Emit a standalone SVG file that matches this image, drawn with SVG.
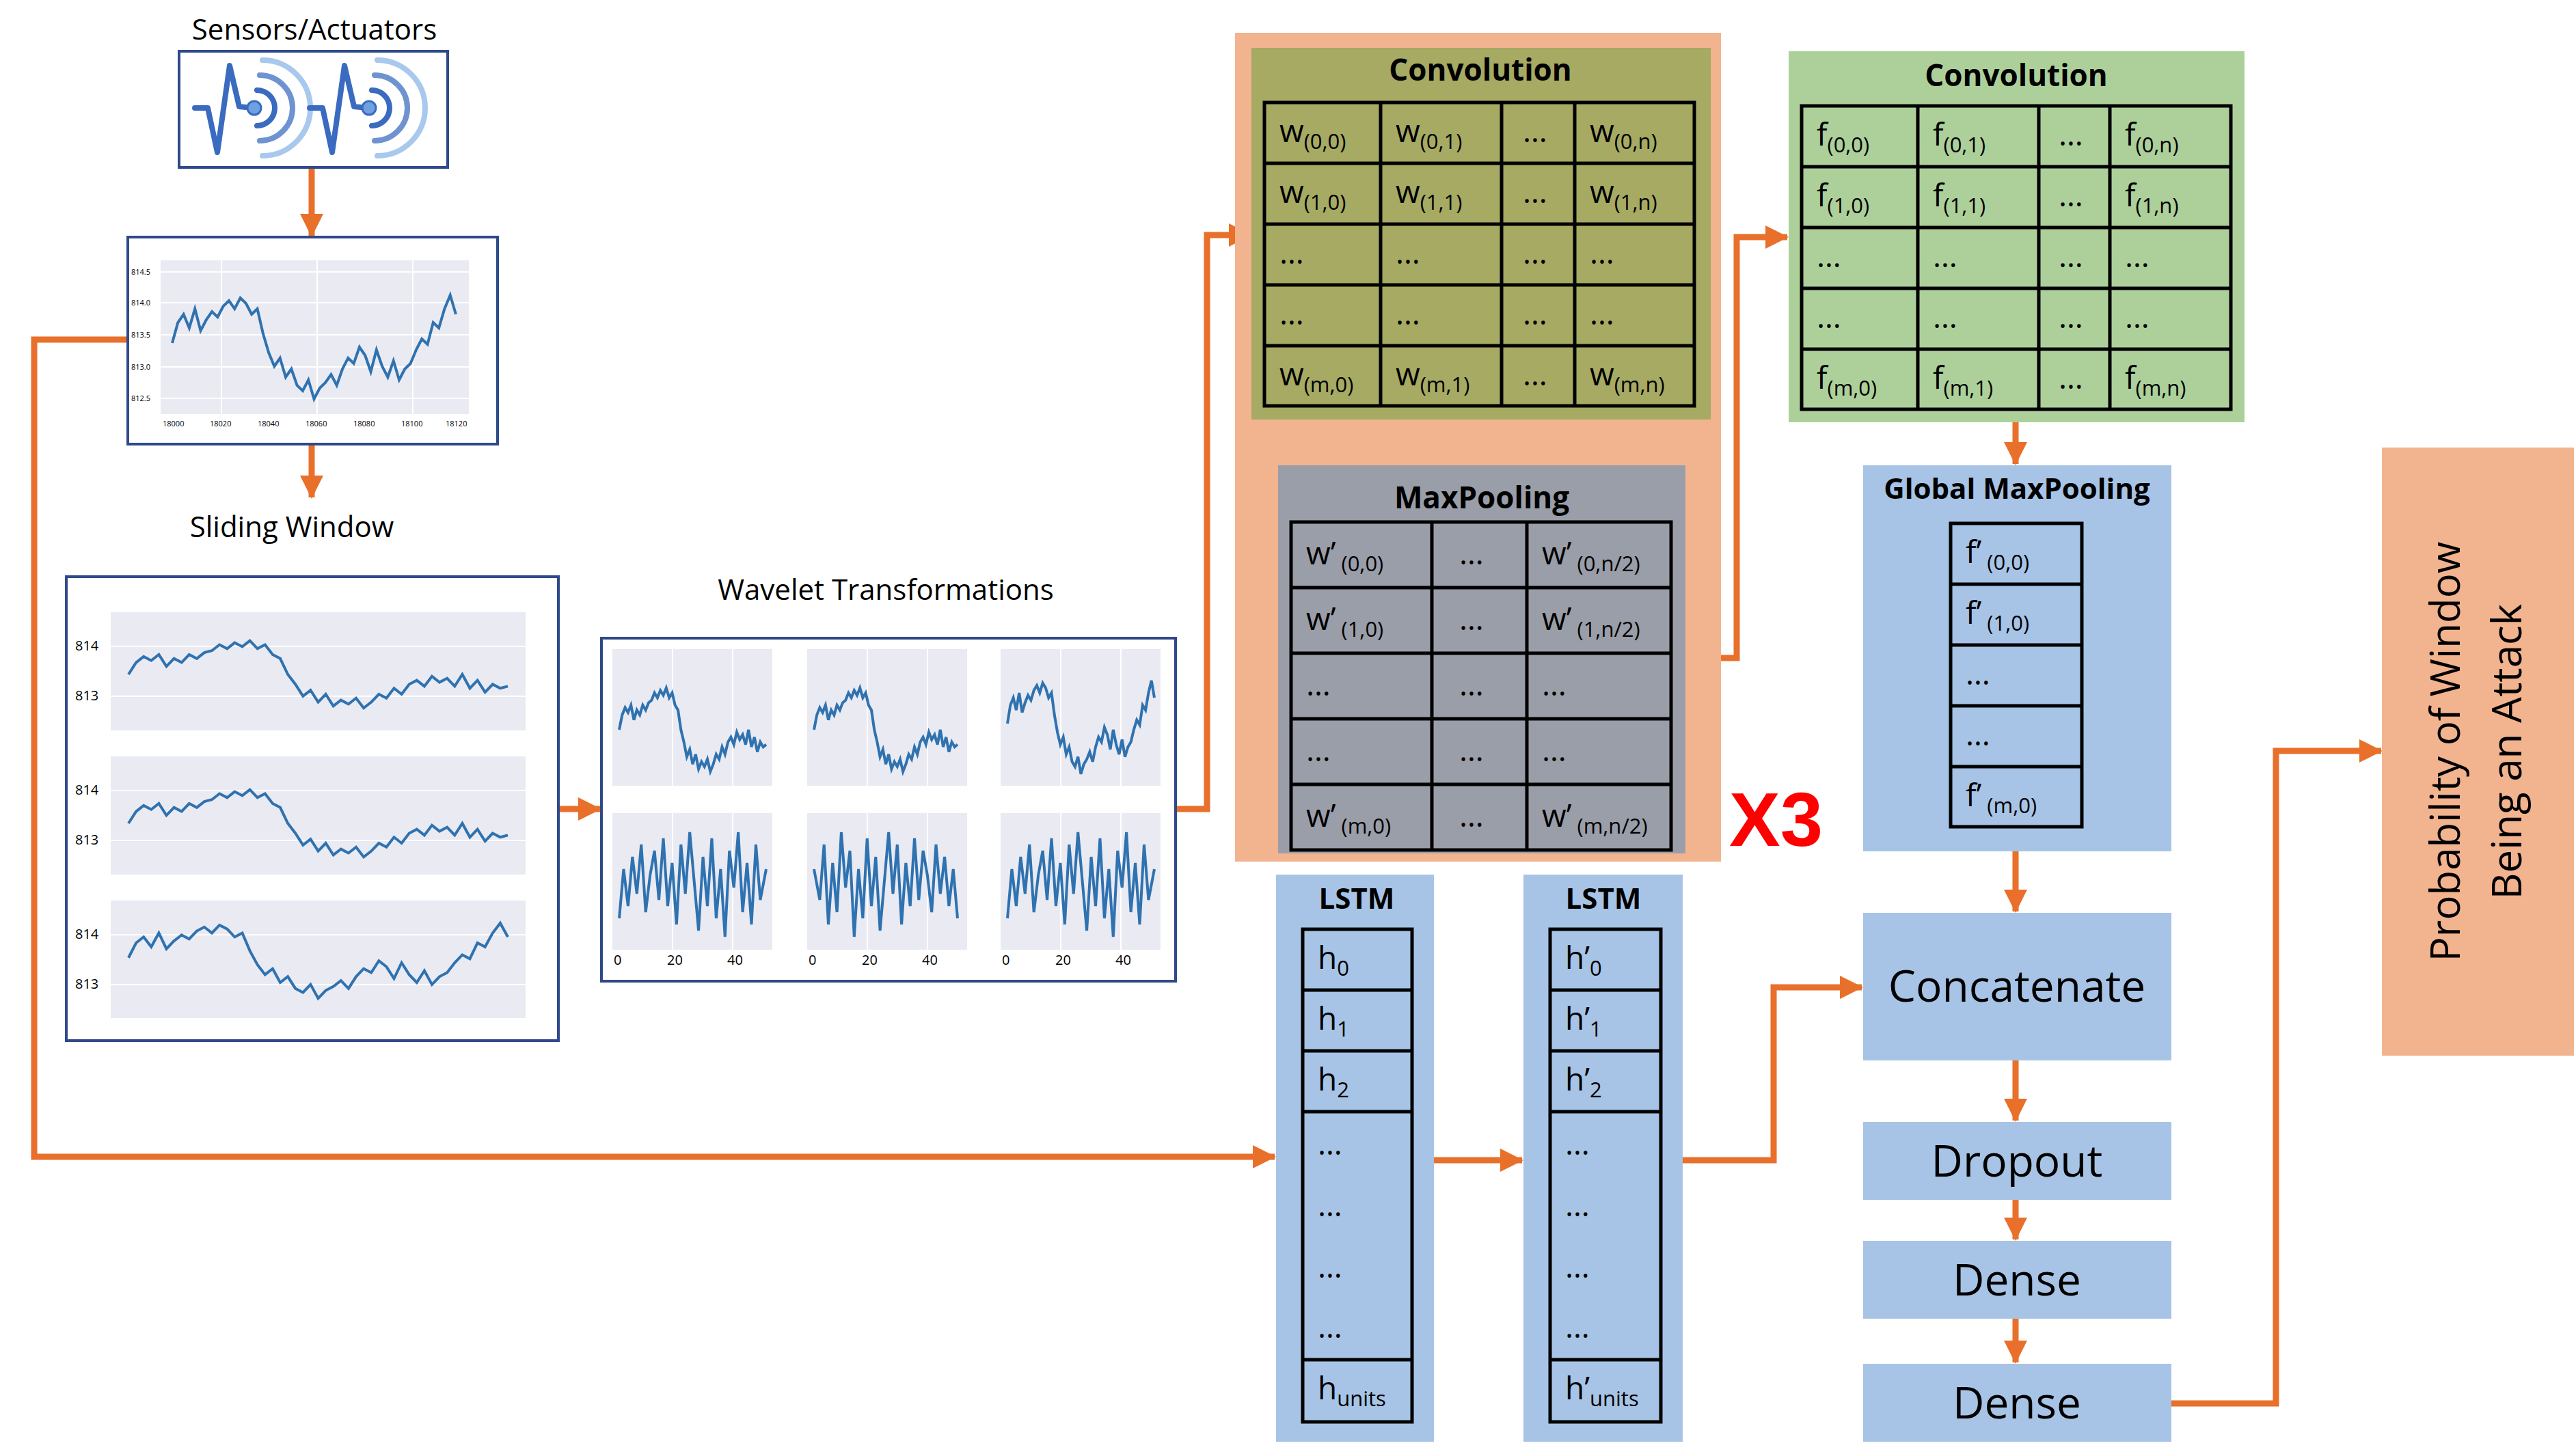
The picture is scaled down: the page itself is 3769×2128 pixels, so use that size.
<svg xmlns="http://www.w3.org/2000/svg" xmlns:xlink="http://www.w3.org/1999/xlink" width="3769" height="2128" viewBox="0 0 3769 2128">
<style>
text{font-family:"Open Sans","Liberation Sans",sans-serif;fill:#000}
.lbl{font-size:42px}
.ttl{font-size:44px;font-weight:bold;text-anchor:middle}
.c{font-size:46px}
.s{font-size:31px}
.big{font-size:64px;text-anchor:middle}
.tick{font-size:11px;fill:#333}
.tk{font-size:20px;fill:#333}
.frame{fill:#fff;stroke:#2F4A8A;stroke-width:4}
.bg{fill:#EAEAF2}
.grid{fill:none;stroke:#000;stroke-width:5}
.arr{fill:none;stroke:#E8702A;stroke-width:9}
.ln{fill:none;stroke:#2F72B0;stroke-width:4;vector-effect:non-scaling-stroke}
.gl{stroke:#fff;stroke-width:2}
</style>
<defs>
<marker id="ah" markerUnits="userSpaceOnUse" markerWidth="34" markerHeight="34" refX="32" refY="17" orient="auto"><path d="M0,0 L34,17 L0,34 Z" fill="#E8702A"/></marker>
<path id="cA" class="ln" d="M0 60 L2 48 L4 42 L6 46 L8 40 L10 52 L12 44 L14 48 L16 40 L18 44 L20 38 L22 36 L24 30 L26 34 L28 28 L30 32 L32 26 L34 34 L36 30 L38 40 L40 44 L42 60 L44 70 L46 82 L48 76 L50 88 L52 80 L54 92 L56 86 L58 90 L60 84 L62 94 L64 88 L66 80 L68 84 L70 74 L72 80 L74 70 L76 66 L78 72 L80 62 L82 68 L84 64 L86 72 L88 60 L90 74 L92 66 L94 78 L96 70 L98 74 L100 72"/>
<path id="cB" class="ln" d="M0 55 L2 40 L4 34 L6 44 L8 30 L10 46 L12 38 L14 32 L16 36 L18 28 L20 24 L22 30 L24 22 L26 26 L28 34 L30 30 L32 48 L34 62 L36 72 L38 66 L40 80 L42 74 L44 86 L46 90 L48 82 L50 96 L52 88 L54 84 L56 78 L58 86 L60 74 L62 66 L64 70 L66 58 L68 64 L70 76 L72 60 L74 72 L76 80 L78 68 L80 82 L82 74 L84 70 L86 60 L88 52 L90 56 L92 40 L94 44 L96 30 L98 20 L100 34"/>
<path id="cN" class="ln" d="M0 80 L3 40 L6 70 L9 30 L12 60 L15 20 L18 75 L21 45 L24 25 L27 65 L30 15 L33 70 L36 35 L39 85 L42 20 L45 60 L48 10 L51 50 L54 90 L57 30 L60 70 L63 15 L66 80 L69 40 L72 95 L75 25 L78 55 L81 10 L84 75 L87 35 L90 85 L93 20 L96 65 L100 40"/>
</defs>

<g id="connectors">
<line class="arr" x1="456" y1="245" x2="456" y2="345" marker-end="url(#ah)"/>
<line class="arr" x1="456" y1="652" x2="456" y2="728" marker-end="url(#ah)"/>
<line class="arr" x1="817" y1="1184" x2="878" y2="1184" marker-end="url(#ah)"/>
<polyline class="arr" points="1720,1184 1766,1184 1766,344 1830,344" marker-end="url(#ah)"/>
<line class="arr" x1="2166" y1="614" x2="2166" y2="679" marker-end="url(#ah)"/>
<polyline class="arr" points="2466,963 2541,963 2541,347 2615,347" marker-end="url(#ah)"/>
<line class="arr" x1="2949" y1="618" x2="2949" y2="679" marker-end="url(#ah)"/>
<line class="arr" x1="2949" y1="1246" x2="2949" y2="1334" marker-end="url(#ah)"/>
<line class="arr" x1="2949" y1="1552" x2="2949" y2="1640" marker-end="url(#ah)"/>
<line class="arr" x1="2949" y1="1756" x2="2949" y2="1814" marker-end="url(#ah)"/>
<line class="arr" x1="2949" y1="1930" x2="2949" y2="1994" marker-end="url(#ah)"/>
<polyline class="arr" points="3177,2054 3330,2054 3330,1099 3484,1099" marker-end="url(#ah)"/>
<line class="arr" x1="2098" y1="1698" x2="2227" y2="1698" marker-end="url(#ah)"/>
<polyline class="arr" points="2462,1698 2595,1698 2595,1445 2724,1445" marker-end="url(#ah)"/>
<polyline class="arr" points="187,497 50,497 50,1693 1865,1693" marker-end="url(#ah)"/>
</g>

<g id="sensors">
<text class="lbl" x="460" y="58" text-anchor="middle">Sensors/Actuators</text>
<rect class="frame" x="262" y="75" width="393" height="170"/>
<g id="icon1" fill="none" stroke-linecap="round">
<polyline points="285,158 304,158 318,223 336,96 350,156 370,158" stroke="#3A6BC0" stroke-width="8" stroke-linejoin="round"/>
<circle cx="372" cy="158" r="10" fill="#6FA0E0" stroke="#3A6BC0" stroke-width="3"/>
<path d="M376,132 A26,26 0 0 1 376,184" stroke="#3A6BC0" stroke-width="8"/>
<path d="M380,110 A48,48 0 0 1 380,206" stroke="#6E93D0" stroke-width="8"/>
<path d="M384,88 A70,70 0 0 1 384,228" stroke="#A8C8EE" stroke-width="8"/>
</g>
<use xlink:href="#icon1" href="#icon1" transform="translate(168,0)"/>
</g>

<g id="raw-plot">
<rect class="frame" x="187" y="347" width="541" height="303"/>
<rect class="bg" x="235" y="381" width="451" height="225"/>
<g class="gl"><line x1="235" y1="398" x2="686" y2="398"/><line x1="235" y1="443" x2="686" y2="443"/><line x1="235" y1="490" x2="686" y2="490"/><line x1="235" y1="537" x2="686" y2="537"/><line x1="235" y1="583" x2="686" y2="583"/><line x1="324" y1="381" x2="324" y2="606"/><line x1="464" y1="381" x2="464" y2="606"/><line x1="604" y1="381" x2="604" y2="606"/></g>
<use href="#cB" xlink:href="#cB" transform="translate(252,392) scale(4.15,2.0)"/>
<g class="tick"><text x="192" y="402">814.5</text><text x="192" y="447">814.0</text><text x="192" y="494">813.5</text><text x="192" y="541">813.0</text><text x="192" y="587">812.5</text>
<text x="238" y="624">18000</text><text x="307" y="624">18020</text><text x="377" y="624">18040</text><text x="447" y="624">18060</text><text x="517" y="624">18080</text><text x="587" y="624">18100</text><text x="652" y="624">18120</text></g>
</g>

<g id="sliding-window">
<text class="lbl" x="427" y="786" text-anchor="middle">Sliding Window</text>
<rect class="frame" x="97" y="844" width="720" height="679"/>
<rect class="bg" x="162" y="896" width="607" height="173"/>
<rect class="bg" x="162" y="1107" width="607" height="173"/>
<rect class="bg" x="162" y="1318" width="607" height="172"/>
<g class="gl"><line x1="162" y1="946" x2="769" y2="946"/><line x1="162" y1="1019" x2="769" y2="1019"/><line x1="162" y1="1157" x2="769" y2="1157"/><line x1="162" y1="1230" x2="769" y2="1230"/><line x1="162" y1="1368" x2="769" y2="1368"/><line x1="162" y1="1441" x2="769" y2="1441"/></g>
<use href="#cA" xlink:href="#cA" transform="translate(188,900) scale(5.55,1.45)"/>
<use href="#cA" xlink:href="#cA" transform="translate(188,1118) scale(5.55,1.45)"/>
<use href="#cB" xlink:href="#cB" transform="translate(188,1322) scale(5.55,1.45)"/>
<g class="tk"><text x="110" y="952">814</text><text x="110" y="1025">813</text><text x="110" y="1163">814</text><text x="110" y="1236">813</text><text x="110" y="1374">814</text><text x="110" y="1447">813</text></g>
</g>

<g id="wavelets">
<text class="lbl" x="1296" y="878" text-anchor="middle">Wavelet Transformations</text>
<rect class="frame" x="880" y="934" width="840" height="502"/>
<rect class="bg" x="896" y="950" width="234" height="200"/><rect class="bg" x="1181" y="950" width="234" height="200"/><rect class="bg" x="1464" y="950" width="234" height="200"/>
<rect class="bg" x="896" y="1190" width="234" height="200"/><rect class="bg" x="1181" y="1190" width="234" height="200"/><rect class="bg" x="1464" y="1190" width="234" height="200"/>
<g class="gl"><line x1="984" y1="950" x2="984" y2="1390"/><line x1="1072" y1="950" x2="1072" y2="1390"/><line x1="1269" y1="950" x2="1269" y2="1390"/><line x1="1357" y1="950" x2="1357" y2="1390"/><line x1="1552" y1="950" x2="1552" y2="1390"/><line x1="1640" y1="950" x2="1640" y2="1390"/></g>
<use href="#cA" xlink:href="#cA" transform="translate(906,960) scale(2.15,1.8)"/>
<use href="#cA" xlink:href="#cA" transform="translate(1191,960) scale(2.1,1.8)"/>
<use href="#cB" xlink:href="#cB" transform="translate(1474,960) scale(2.15,1.8)"/>
<use href="#cN" xlink:href="#cN" transform="translate(906,1200) scale(2.15,1.8)"/>
<use href="#cN" xlink:href="#cN" transform="translate(1191,1200) scale(2.1,1.8) translate(100,0) scale(-1,1)"/>
<use href="#cN" xlink:href="#cN" transform="translate(1474,1200) scale(2.15,1.8)"/>
<g class="tk"><text x="898" y="1412">0</text><text x="976" y="1412">20</text><text x="1064" y="1412">40</text><text x="1183" y="1412">0</text><text x="1261" y="1412">20</text><text x="1349" y="1412">40</text><text x="1466" y="1412">0</text><text x="1544" y="1412">20</text><text x="1632" y="1412">40</text></g>
</g>

<g id="conv-block">
<rect x="1807" y="48" width="711" height="1213" fill="#F2B38F"/>
</g>

<g id="conv1">
<rect x="1831" y="70" width="672" height="544" fill="#A6AA63"/>
<text class="ttl" x="2166" y="118">Convolution</text>
<rect class="grid" x="1850" y="150" width="629" height="444"/>
<path class="grid" d="M2020,150V594M2197,150V594M2304,150V594M1850,239H2479M1850,328H2479M1850,417H2479M1850,506H2479"/>
<g class="c">
<text x="1872" y="208">w<tspan class="s" dy="10">(0,0)</tspan></text><text x="2042" y="208">w<tspan class="s" dy="10">(0,1)</tspan></text><text x="2228" y="208">…</text><text x="2326" y="208">w<tspan class="s" dy="10">(0,n)</tspan></text>
<text x="1872" y="297">w<tspan class="s" dy="10">(1,0)</tspan></text><text x="2042" y="297">w<tspan class="s" dy="10">(1,1)</tspan></text><text x="2228" y="297">…</text><text x="2326" y="297">w<tspan class="s" dy="10">(1,n)</tspan></text>
<text x="1872" y="386">…</text><text x="2042" y="386">…</text><text x="2228" y="386">…</text><text x="2326" y="386">…</text>
<text x="1872" y="475">…</text><text x="2042" y="475">…</text><text x="2228" y="475">…</text><text x="2326" y="475">…</text>
<text x="1872" y="564">w<tspan class="s" dy="10">(m,0)</tspan></text><text x="2042" y="564">w<tspan class="s" dy="10">(m,1)</tspan></text><text x="2228" y="564">…</text><text x="2326" y="564">w<tspan class="s" dy="10">(m,n)</tspan></text>
</g>
</g>

<g id="maxpool">
<rect x="1870" y="681" width="596" height="568" fill="#9A9EA8"/>
<text class="ttl" x="2168" y="744">MaxPooling</text>
<rect class="grid" x="1889" y="764" width="556" height="480"/>
<path class="grid" d="M2095,764V1244M2234,764V1244M1889,860H2445M1889,956H2445M1889,1052H2445M1889,1148H2445"/>
<g class="c">
<text x="1911" y="826">w’<tspan class="s" dy="10"> (0,0)</tspan></text><text x="2135" y="826">…</text><text x="2256" y="826">w’<tspan class="s" dy="10"> (0,n/2)</tspan></text>
<text x="1911" y="922">w’<tspan class="s" dy="10"> (1,0)</tspan></text><text x="2135" y="922">…</text><text x="2256" y="922">w’<tspan class="s" dy="10"> (1,n/2)</tspan></text>
<text x="1911" y="1018">…</text><text x="2135" y="1018">…</text><text x="2256" y="1018">…</text>
<text x="1911" y="1114">…</text><text x="2135" y="1114">…</text><text x="2256" y="1114">…</text>
<text x="1911" y="1210">w’<tspan class="s" dy="10"> (m,0)</tspan></text><text x="2135" y="1210">…</text><text x="2256" y="1210">w’<tspan class="s" dy="10"> (m,n/2)</tspan></text>
</g>
</g>

<g id="conv2">
<rect x="2617" y="75" width="667" height="543" fill="#ADD09B"/>
<text class="ttl" x="2950" y="126">Convolution</text>
<rect class="grid" x="2636" y="155" width="628" height="444"/>
<path class="grid" d="M2806,155V599M2983,155V599M3087,155V599M2636,244H3264M2636,333H3264M2636,422H3264M2636,511H3264"/>
<g class="c">
<text x="2658" y="213">f<tspan class="s" dy="10">(0,0)</tspan></text><text x="2828" y="213">f<tspan class="s" dy="10">(0,1)</tspan></text><text x="3012" y="213">…</text><text x="3109" y="213">f<tspan class="s" dy="10">(0,n)</tspan></text>
<text x="2658" y="302">f<tspan class="s" dy="10">(1,0)</tspan></text><text x="2828" y="302">f<tspan class="s" dy="10">(1,1)</tspan></text><text x="3012" y="302">…</text><text x="3109" y="302">f<tspan class="s" dy="10">(1,n)</tspan></text>
<text x="2658" y="391">…</text><text x="2828" y="391">…</text><text x="3012" y="391">…</text><text x="3109" y="391">…</text>
<text x="2658" y="480">…</text><text x="2828" y="480">…</text><text x="3012" y="480">…</text><text x="3109" y="480">…</text>
<text x="2658" y="569">f<tspan class="s" dy="10">(m,0)</tspan></text><text x="2828" y="569">f<tspan class="s" dy="10">(m,1)</tspan></text><text x="3012" y="569">…</text><text x="3109" y="569">f<tspan class="s" dy="10">(m,n)</tspan></text>
</g>
</g>

<g id="global-maxpool">
<rect x="2726" y="681" width="451" height="565" fill="#A7C4E6"/>
<text class="ttl" x="2951" y="730" style="font-size:42px">Global MaxPooling</text>
<rect class="grid" x="2854" y="766" width="192" height="444"/>
<path class="grid" d="M2854,855H3046M2854,944H3046M2854,1033H3046M2854,1122H3046"/>
<g class="c">
<text x="2876" y="824">f’<tspan class="s" dy="10"> (0,0)</tspan></text>
<text x="2876" y="913">f’<tspan class="s" dy="10"> (1,0)</tspan></text>
<text x="2876" y="1002">…</text>
<text x="2876" y="1091">…</text>
<text x="2876" y="1180">f’<tspan class="s" dy="10"> (m,0)</tspan></text>
</g>
</g>

<g id="x3-label">
<text x="2530" y="1238" font-size="112" font-weight="bold" style="fill:#FF0000;font-family:'Liberation Sans',sans-serif">X3</text>
</g>

<g id="lstm1">
<rect x="1867" y="1280" width="231" height="830" fill="#A7C4E6"/>
<text class="ttl" x="1985" y="1330" style="font-size:42px">LSTM</text>
<rect class="grid" x="1906" y="1360" width="160" height="721"/>
<path class="grid" d="M1906,1449H2066M1906,1538H2066M1906,1627H2066M1906,1990H2066"/>
<g class="c">
<text x="1928" y="1418">h<tspan class="s" dy="10">0</tspan></text>
<text x="1928" y="1507">h<tspan class="s" dy="10">1</tspan></text>
<text x="1928" y="1596">h<tspan class="s" dy="10">2</tspan></text>
<text x="1928" y="1690">…</text><text x="1928" y="1780">…</text><text x="1928" y="1870">…</text><text x="1928" y="1958">…</text>
<text x="1928" y="2048">h<tspan class="s" dy="10">units</tspan></text>
</g>
</g>

<g id="lstm2">
<rect x="2229" y="1280" width="233" height="830" fill="#A7C4E6"/>
<text class="ttl" x="2346" y="1330" style="font-size:42px">LSTM</text>
<rect class="grid" x="2268" y="1360" width="162" height="721"/>
<path class="grid" d="M2268,1449H2430M2268,1538H2430M2268,1627H2430M2268,1990H2430"/>
<g class="c">
<text x="2290" y="1418">h’<tspan class="s" dy="10">0</tspan></text>
<text x="2290" y="1507">h’<tspan class="s" dy="10">1</tspan></text>
<text x="2290" y="1596">h’<tspan class="s" dy="10">2</tspan></text>
<text x="2290" y="1690">…</text><text x="2290" y="1780">…</text><text x="2290" y="1870">…</text><text x="2290" y="1958">…</text>
<text x="2290" y="2048">h’<tspan class="s" dy="10">units</tspan></text>
</g>
</g>

<g id="concatenate"><rect x="2726" y="1336" width="451" height="216" fill="#A7C4E6"/><text class="big" x="2951" y="1466">Concatenate</text></g>
<g id="dropout"><rect x="2726" y="1642" width="451" height="114" fill="#A7C4E6"/><text class="big" x="2951" y="1722">Dropout</text></g>
<g id="dense1"><rect x="2726" y="1816" width="451" height="114" fill="#A7C4E6"/><text class="big" x="2951" y="1896">Dense</text></g>
<g id="dense2"><rect x="2726" y="1996" width="451" height="114" fill="#A7C4E6"/><text class="big" x="2951" y="2076">Dense</text></g>

<g id="probability">
<rect x="3485" y="655" width="281" height="890" fill="#F2B38F"/>
<g transform="translate(3625,1100) rotate(-90)">
<text x="0" y="-26" text-anchor="middle" font-size="60">Probability of Window</text>
<text x="0" y="64" text-anchor="middle" font-size="60">Being an Attack</text>
</g>
</g>
</svg>
